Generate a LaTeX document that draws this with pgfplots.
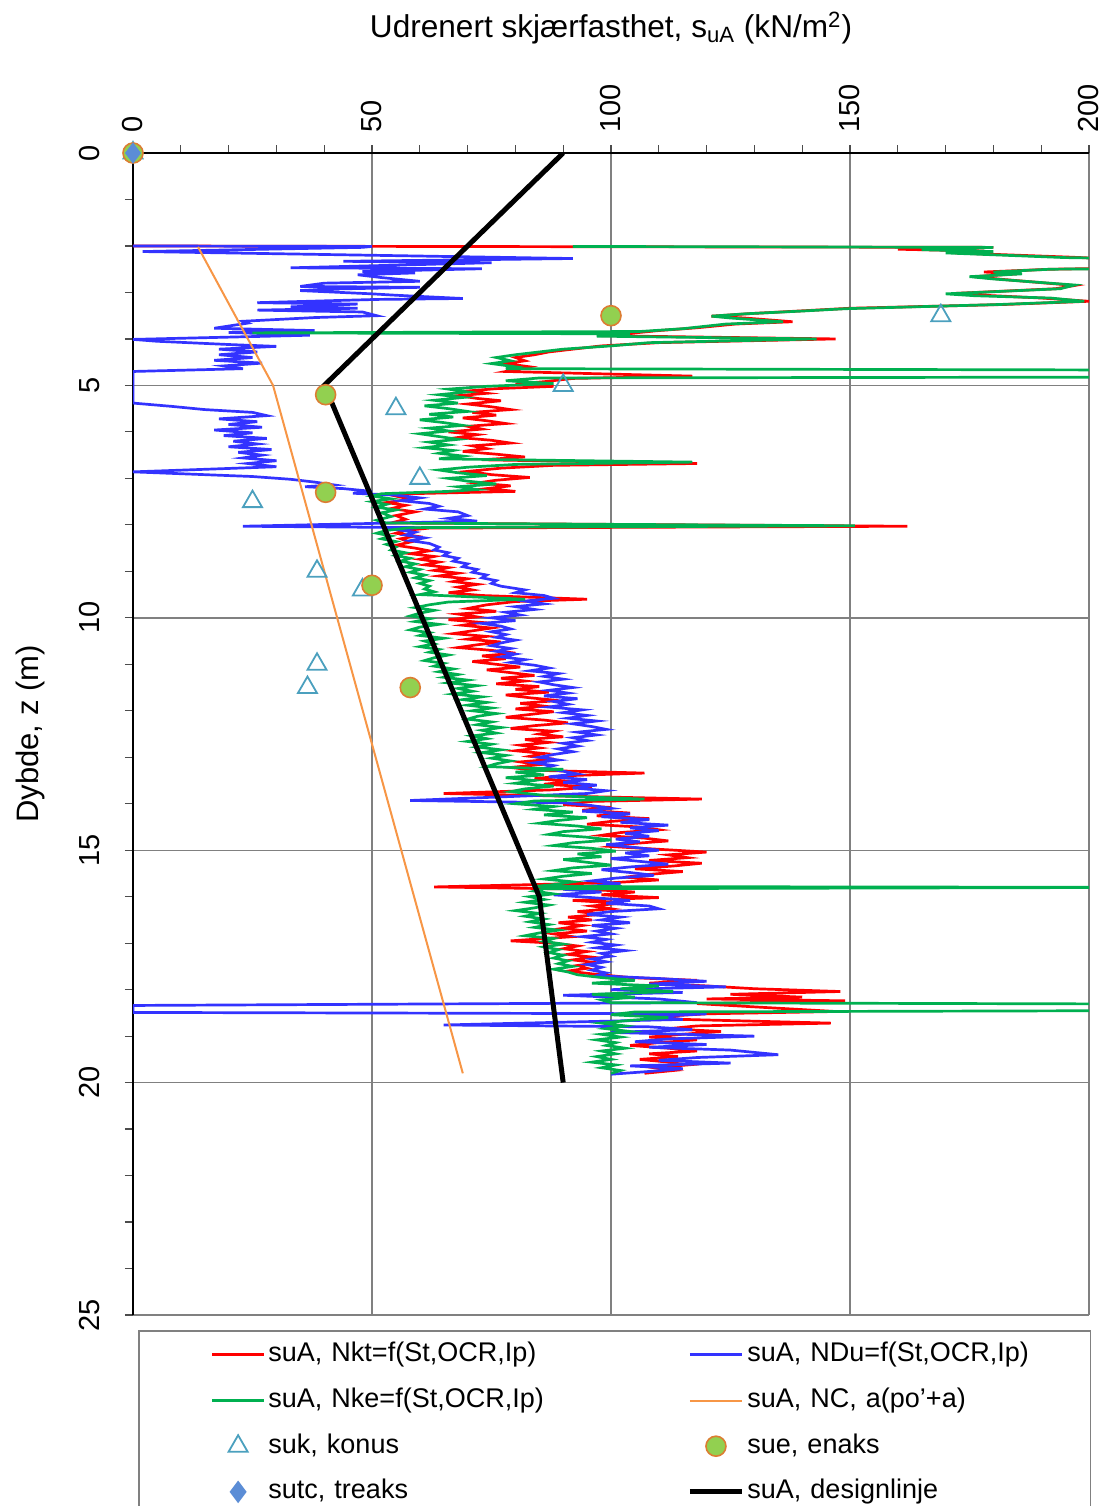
\documentclass[border=0pt]{standalone}
\usepackage{fontspec}
\setmainfont{Liberation Sans}
\usepackage{pgfplots}
\pgfplotsset{compat=1.18}
\definecolor{cred}{RGB}{255,0,0}
\definecolor{cblue}{RGB}{51,51,255}
\definecolor{cgreen}{RGB}{0,176,80}
\definecolor{corange}{RGB}{247,150,70}
\definecolor{cteal}{RGB}{75,160,190}
\definecolor{cfill}{RGB}{146,208,80}
\definecolor{cedge}{RGB}{220,125,50}
\definecolor{cdiam}{RGB}{91,141,214}
\begin{document}
\begin{tikzpicture}
\begin{axis}[
  at={(0,0)}, anchor=south west,
  scale only axis, width=478pt, height=581pt,
  xmin=0, xmax=200, ymin=0, ymax=25, y dir=reverse,
  enlargelimits=false,
  axis x line*=top, axis y line*=left,
  axis line style={black, line width=1pt},
  xtick={0,50,100,150,200}, ytick={0,5,10,15,20,25},
  minor x tick num=4, minor y tick num=4,
  tick align=outside, major tick length=4pt, minor tick length=4pt,
  tick style={black!70, line width=0.6pt},
  grid=major, major grid style={black!50, line width=0.7pt},
  /pgf/number format/assume math mode=true,
  xticklabel shift=2.5pt, yticklabel shift=9pt,
  xticklabel style={rotate=90, anchor=west, font=\fontsize{14.5}{17}\selectfont},
  yticklabel style={rotate=90, anchor=south, font=\fontsize{14.5}{17}\selectfont},
  xlabel={Udrenert skjærfasthet, s\textsubscript{uA} (kN/m\textsuperscript{2})},
  ylabel={Dybde, z (m)},
  xlabel style={at={(axis description cs:0.5,1.1076)}, anchor=center, font=\fontsize{15.8}{18}\selectfont},
  ylabel style={at={(axis description cs:-0.107,0.5)}, anchor=center, font=\fontsize{15.5}{18}\selectfont},
  legend columns=2,
  legend image code/.code={\path (0pt,0pt); \draw[mark repeat=2,mark phase=2,#1] plot coordinates {(8pt,0pt) (21pt,0pt) (34pt,0pt)};},
  legend style={at={(axis description cs:0.0052,-0.0129)}, anchor=north west,
    draw=black!50, line width=0.8pt, inner xsep=28pt, inner ysep=4pt,
    font=\fontsize{13.5}{16}\selectfont, row sep=6.85pt, column sep=0pt,
    nodes={inner sep=1.5pt, text height=10pt, text depth=3pt, align=left},
    /tikz/column 2/.style={nodes={text width=200pt}},
    /tikz/column 4/.style={nodes={text width=142pt}}},
  legend cell align=left,
]
% suA, Nkt (red)
\addplot[cred, line width=1.35pt, mark=none] coordinates {
(0,2.00) (180,2.03) (160,2.07) (178,2.11) (172,2.15) (196,2.24) (205,2.28) (205,2.48) (192,2.50) (178,2.56) (185,2.60) (176,2.66) (182,2.72) (197,2.85) (193,2.92) (172,3.02) (178,3.06) (190,3.12) (200,3.19) (182,3.26) (150,3.34) (141,3.39) (130,3.45) (121,3.51) (128,3.55) (138,3.63) (126,3.68) (118,3.76) (110,3.82) (104,3.88) (98,3.93) (147,4.00) (110,4.08) (98,4.15) (92,4.22) (87,4.28) (84,4.34) (80,4.40) (82,4.47) (78,4.53) (83,4.60) (80,4.66) (78,4.70) (117,4.80) (92,4.85) (86,4.92) (80,4.97) (88,5.02) (76,5.07) (70,5.12) (74,5.17) (68,5.22) (72,5.28) (77,5.33) (70,5.40) (75,5.46) (79,5.52) (71,5.58) (76,5.64) (69,5.70) (74,5.76) (78,5.82) (70,5.88) (73,5.94) (66,6.00) (72,6.06) (68,6.12) (75,6.18) (79,6.24) (71,6.30) (74,6.36) (69,6.42) (76,6.48) (82,6.54) (73,6.60) (118,6.68) (88,6.72) (77,6.78) (70,6.85) (75,6.92) (83,6.98) (76,7.04) (72,7.10) (79,7.16) (74,7.22) (80,7.28) (58,7.33) (55,7.38) (58,7.45) (53,7.52) (57,7.58) (54,7.65) (59,7.72) (55,7.80) (57,7.88) (54,7.96) (162,8.03) (62,8.07) (57,8.12) (55,8.18) (59,8.24) (56,8.30) (58,8.37) (55,8.44) (59,8.50) (62,8.56) (58,8.62) (63,8.68) (60,8.74) (64,8.80) (61,8.86) (66,8.92) (63,8.98) (68,9.04) (64,9.10) (70,9.16) (67,9.22) (72,9.28) (68,9.34) (71,9.40) (66,9.46) (73,9.52) (95,9.60) (80,9.65) (74,9.72) (70,9.80) (76,9.86) (68,9.92) (72,9.98) (66,10.04) (73,10.10) (69,10.16) (75,10.22) (71,10.28) (67,10.34) (74,10.40) (70,10.46) (77,10.52) (72,10.58) (68,10.64) (75,10.70) (80,10.76) (73,10.82) (78,10.88) (71,10.94) (76,11.00) (81,11.06) (74,11.12) (79,11.18) (84,11.24) (77,11.30) (82,11.36) (76,11.42) (85,11.48) (80,11.54) (87,11.60) (78,11.66) (83,11.72) (89,11.78) (81,11.84) (86,11.90) (80,11.96) (88,12.02) (83,12.08) (78,12.14) (86,12.20) (91,12.26) (84,12.32) (79,12.38) (88,12.44) (85,12.50) (90,12.56) (82,12.62) (87,12.68) (81,12.74) (85,12.80) (80,12.86) (86,12.92) (83,12.98) (88,13.04) (81,13.10) (85,13.16) (79,13.22) (84,13.28) (107,13.34) (90,13.40) (84,13.46) (92,13.52) (86,13.58) (96,13.64) (88,13.70) (65,13.78) (92,13.84) (119,13.90) (96,13.95) (90,14.02) (100,14.08) (94,14.14) (104,14.20) (97,14.26) (108,14.32) (100,14.38) (95,14.44) (106,14.50) (110,14.56) (102,14.62) (98,14.68) (107,14.74) (112,14.80) (104,14.86) (100,14.92) (110,14.98) (120,15.04) (112,15.10) (116,15.16) (108,15.22) (119,15.28) (113,15.34) (105,15.40) (115,15.46) (108,15.52) (103,15.58) (110,15.64) (100,15.70) (63,15.79) (95,15.84) (105,15.90) (98,15.96) (110,16.02) (92,16.08) (102,16.14) (96,16.20) (100,16.26) (93,16.32) (98,16.38) (91,16.44) (96,16.50) (89,16.56) (94,16.62) (90,16.68) (95,16.74) (88,16.80) (92,16.86) (79,16.95) (88,17.00) (93,17.06) (90,17.12) (95,17.18) (91,17.24) (96,17.30) (92,17.36) (97,17.42) (93,17.48) (95,17.54) (91,17.60) (96,17.66) (104,17.74) (118,17.80) (108,17.86) (120,17.92) (130,17.98) (148,18.04) (125,18.10) (140,18.16) (120,18.20) (149,18.24) (118,18.30) (147,18.47) (120,18.52) (110,18.58) (115,18.64) (146,18.72) (118,18.78) (112,18.84) (123,18.90) (115,18.96) (108,19.02) (118,19.08) (110,19.14) (104,19.20) (112,19.26) (118,19.32) (108,19.38) (114,19.44) (106,19.50) (112,19.56) (116,19.62) (109,19.68) (113,19.74) (107,19.80)
};
\addlegendentry{suA, Nkt=f(St,OCR,Ip)}
% suA, NDu (blue)
\addplot[cblue, line width=1.35pt, mark=none] coordinates {
(0,2.00) (50,2.01) (48,2.03) (2,2.12) (92,2.27) (44,2.33) (75,2.36) (60,2.40) (33,2.47) (73,2.49) (48,2.55) (59,2.58) (47,2.62) (52,2.68) (60,2.76) (40,2.80) (35,2.87) (60,2.89) (40,2.93) (35,2.96) (50,3.03) (55,3.06) (69,3.13) (51,3.15) (26,3.22) (47,3.25) (33,3.31) (47,3.34) (26,3.38) (48,3.42) (51,3.50) (38,3.54) (23,3.62) (24,3.66) (17,3.77) (38,3.82) (20,3.86) (37,3.92) (0,4.01) (5,4.05) (20,4.12) (30,4.16) (18,4.22) (26,4.28) (18,4.34) (25,4.40) (17,4.46) (27,4.52) (19,4.58) (23,4.64) (0,4.70) (0,5.38) (8,5.45) (15,5.52) (25,5.58) (28,5.65) (18,5.72) (26,5.78) (20,5.84) (27,5.90) (17,5.96) (25,6.02) (19,6.08) (28,6.14) (21,6.20) (26,6.26) (20,6.32) (29,6.38) (22,6.44) (27,6.50) (23,6.56) (30,6.62) (24,6.68) (30,6.75) (0,6.86) (10,6.90) (25,6.96) (33,7.02) (38,7.08) (42,7.14) (36,7.18) (44,7.22) (50,7.28) (46,7.32) (55,7.36) (60,7.42) (56,7.48) (62,7.54) (64,7.60) (61,7.66) (68,7.72) (70,7.80) (66,7.86) (72,7.92) (23,8.03) (60,8.06) (55,8.10) (59,8.16) (57,8.22) (61,8.28) (58,8.34) (62,8.40) (64,8.48) (63,8.54) (66,8.60) (65,8.66) (68,8.72) (67,8.78) (70,8.84) (69,8.90) (72,8.96) (71,9.02) (74,9.08) (73,9.14) (76,9.20) (75,9.26) (77,9.32) (82,9.40) (80,9.46) (86,9.52) (88,9.58) (82,9.64) (86,9.70) (80,9.76) (84,9.82) (78,9.88) (81,9.94) (75,10.00) (80,10.06) (73,10.12) (77,10.18) (79,10.24) (75,10.30) (78,10.36) (76,10.42) (80,10.48) (77,10.54) (75,10.60) (79,10.66) (76,10.72) (80,10.78) (77,10.84) (82,10.90) (79,10.96) (84,11.02) (87,11.08) (83,11.14) (89,11.20) (86,11.26) (90,11.32) (85,11.38) (88,11.44) (92,11.50) (87,11.56) (91,11.62) (86,11.68) (93,11.74) (88,11.80) (91,11.86) (87,11.92) (94,11.98) (90,12.04) (95,12.10) (91,12.16) (97,12.22) (92,12.28) (96,12.34) (99,12.40) (93,12.46) (97,12.52) (92,12.58) (95,12.64) (90,12.70) (93,12.76) (89,12.82) (92,12.88) (88,12.94) (85,13.00) (89,13.06) (84,13.12) (88,13.18) (86,13.24) (90,13.30) (93,13.36) (87,13.42) (95,13.48) (90,13.54) (97,13.60) (92,13.66) (99,13.72) (95,13.78) (58,13.93) (90,13.98) (96,14.04) (100,14.10) (94,14.16) (104,14.22) (98,14.28) (108,14.34) (102,14.40) (112,14.46) (104,14.52) (110,14.58) (103,14.64) (108,14.70) (101,14.76) (106,14.82) (99,14.88) (105,14.94) (110,15.00) (103,15.06) (108,15.12) (100,15.18) (106,15.24) (112,15.30) (104,15.36) (98,15.42) (104,15.48) (109,15.54) (101,15.60) (96,15.66) (102,15.72) (95,15.78) (90,15.84) (98,15.90) (88,15.96) (96,16.02) (104,16.08) (99,16.14) (108,16.20) (110,16.26) (100,16.32) (95,16.38) (102,16.44) (98,16.50) (104,16.56) (96,16.62) (101,16.68) (97,16.74) (100,16.80) (94,16.86) (99,16.92) (96,16.98) (101,17.04) (97,17.10) (103,17.16) (98,17.22) (100,17.28) (96,17.34) (99,17.40) (95,17.46) (98,17.52) (96,17.58) (99,17.64) (97,17.70) (110,17.76) (120,17.82) (108,17.88) (124,17.94) (100,18.00) (115,18.06) (90,18.12) (110,18.20) (118,18.28) (0,18.34) (0,18.49) (120,18.52) (108,18.58) (115,18.64) (65,18.76) (108,18.80) (117,18.86) (100,18.92) (130,19.00) (112,19.06) (105,19.12) (120,19.18) (108,19.24) (125,19.30) (135,19.40) (118,19.46) (110,19.52) (125,19.58) (104,19.64) (115,19.70) (108,19.76) (100,19.82)
};
\addlegendentry{suA, NDu=f(St,OCR,Ip)}
% suA, Nke (green)
\addplot[cgreen, line width=1.35pt, mark=none] coordinates {
(92,2.01) (180,2.03) (165,2.08) (180,2.12) (170,2.15) (195,2.25) (215,2.28) (215,2.48) (192,2.50) (180,2.56) (186,2.60) (175,2.66) (180,2.71) (197,2.84) (194,2.92) (170,3.03) (176,3.07) (192,3.12) (199,3.19) (181,3.26) (149,3.35) (140,3.40) (128,3.46) (121,3.51) (125,3.55) (136,3.63) (124,3.68) (115,3.78) (106,3.84) (25,3.87) (104,3.89) (97,3.94) (143,4.00) (108,4.08) (100,4.15) (90,4.22) (85,4.28) (80,4.34) (76,4.40) (79,4.47) (75,4.53) (80,4.60) (78,4.64) (215,4.67) (215,4.82) (85,4.84) (78,4.90) (88,4.96) (74,5.02) (66,5.08) (70,5.14) (64,5.20) (69,5.26) (63,5.32) (68,5.38) (61,5.44) (66,5.50) (70,5.56) (62,5.62) (67,5.68) (60,5.74) (65,5.80) (69,5.86) (62,5.92) (66,5.98) (60,6.04) (64,6.10) (68,6.16) (62,6.22) (66,6.28) (61,6.34) (67,6.40) (64,6.46) (69,6.52) (64,6.58) (117,6.65) (80,6.70) (70,6.76) (64,6.82) (68,6.88) (74,6.94) (66,7.00) (70,7.06) (76,7.12) (68,7.18) (72,7.24) (66,7.28) (52,7.33) (50,7.38) (54,7.44) (50,7.50) (53,7.56) (51,7.62) (55,7.68) (52,7.74) (54,7.82) (51,7.90) (53,7.96) (151,8.02) (58,8.06) (53,8.12) (51,8.18) (54,8.24) (52,8.30) (55,8.36) (53,8.42) (55,8.48) (54,8.54) (57,8.60) (55,8.66) (58,8.72) (56,8.78) (59,8.84) (57,8.90) (60,8.96) (58,9.02) (61,9.08) (59,9.14) (62,9.20) (60,9.26) (62,9.32) (61,9.38) (63,9.44) (60,9.50) (82,9.60) (66,9.66) (62,9.72) (59,9.78) (63,9.84) (60,9.90) (58,9.96) (62,10.02) (59,10.08) (64,10.14) (60,10.20) (58,10.26) (62,10.32) (60,10.38) (65,10.44) (61,10.50) (63,10.56) (60,10.62) (64,10.68) (62,10.74) (66,10.80) (63,10.86) (61,10.92) (65,10.98) (63,11.04) (67,11.10) (64,11.16) (68,11.22) (65,11.28) (70,11.34) (66,11.40) (72,11.46) (68,11.52) (71,11.58) (67,11.64) (73,11.70) (69,11.76) (74,11.82) (70,11.88) (75,11.94) (71,12.00) (76,12.06) (72,12.12) (70,12.18) (75,12.24) (72,12.30) (77,12.36) (73,12.42) (76,12.48) (71,12.54) (74,12.60) (70,12.66) (75,12.72) (72,12.78) (77,12.84) (73,12.90) (78,12.96) (75,13.02) (79,13.08) (76,13.14) (74,13.20) (90,13.26) (80,13.32) (86,13.38) (78,13.44) (84,13.50) (80,13.56) (88,13.62) (82,13.68) (79,13.74) (86,13.82) (107,13.90) (84,13.94) (80,14.00) (88,14.06) (84,14.12) (92,14.18) (86,14.24) (95,14.30) (89,14.36) (85,14.42) (93,14.48) (98,14.54) (90,14.60) (87,14.66) (95,14.72) (100,14.78) (92,14.84) (88,14.90) (96,14.96) (101,15.02) (93,15.08) (98,15.14) (90,15.20) (95,15.26) (100,15.32) (92,15.38) (88,15.44) (96,15.50) (90,15.56) (86,15.62) (92,15.68) (88,15.74) (84,15.78) (215,15.80) (86,15.83) (84,15.88) (88,15.94) (83,16.00) (86,16.06) (82,16.12) (87,16.18) (84,16.24) (80,16.30) (85,16.36) (82,16.42) (86,16.48) (83,16.54) (87,16.60) (84,16.66) (89,16.72) (85,16.78) (82,16.84) (88,16.90) (86,16.96) (90,17.02) (86,17.08) (89,17.14) (87,17.20) (90,17.26) (88,17.32) (91,17.38) (89,17.44) (92,17.50) (88,17.56) (91,17.62) (93,17.68) (98,17.74) (105,17.80) (96,17.86) (110,17.92) (102,17.98) (113,18.04) (96,18.10) (105,18.16) (98,18.22) (100,18.28) (215,18.31) (215,18.45) (105,18.48) (100,18.54) (112,18.60) (104,18.66) (98,18.72) (103,18.78) (99,18.84) (104,18.90) (98,18.96) (102,19.02) (97,19.08) (101,19.14) (99,19.20) (103,19.26) (98,19.32) (101,19.38) (97,19.44) (100,19.50) (96,19.56) (101,19.62) (98,19.68) (102,19.74) (100,19.80)
};
\addlegendentry{suA, Nke=f(St,OCR,Ip)}
% suA, NC (orange)
\addplot[corange, line width=1pt, mark=none] coordinates {(13.6,2.02) (29.3,5.0) (69,19.8)};
\addlegendentry{suA, NC, a(po'+a)}
% suk, konus
\addplot[only marks, mark=triangle, mark size=5.5pt, cteal, mark options={line width=0.9pt}] coordinates {
(0,0) (169,3.5) (90,5.0) (55,5.5) (60,7.0) (25,7.5) (38.5,9.0) (48,9.4) (38.5,11.0) (36.5,11.5)};
\addlegendentry{suk, konus}
% sue, enaks
\addplot[only marks, mark=*, mark size=5pt, mark options={fill=cfill, draw=cedge, line width=0.8pt}] coordinates {
(0,0) (100,3.5) (40.3,5.2) (40.3,7.3) (50,9.3) (58,11.5)};
\addlegendentry{sue, enaks}
% sutc, treaks
\addplot[only marks, mark=diamond*, mark size=5pt, mark options={fill=cdiam, draw=cdiam}] coordinates {(0,0)};
\addlegendentry{sutc, treaks}
% design line
\addplot[black, line width=2.5pt, mark=none] coordinates {(90,0) (40,5.0) (41.3,5.3) (85,16.0) (90,20.0)};
\addlegendentry{suA, designlinje}
\end{axis}
\pgfresetboundingbox
\path[use as bounding box] (-66.5pt,-95.5pt) rectangle (485.5pt,657.5pt);
\end{tikzpicture}
\end{document}
